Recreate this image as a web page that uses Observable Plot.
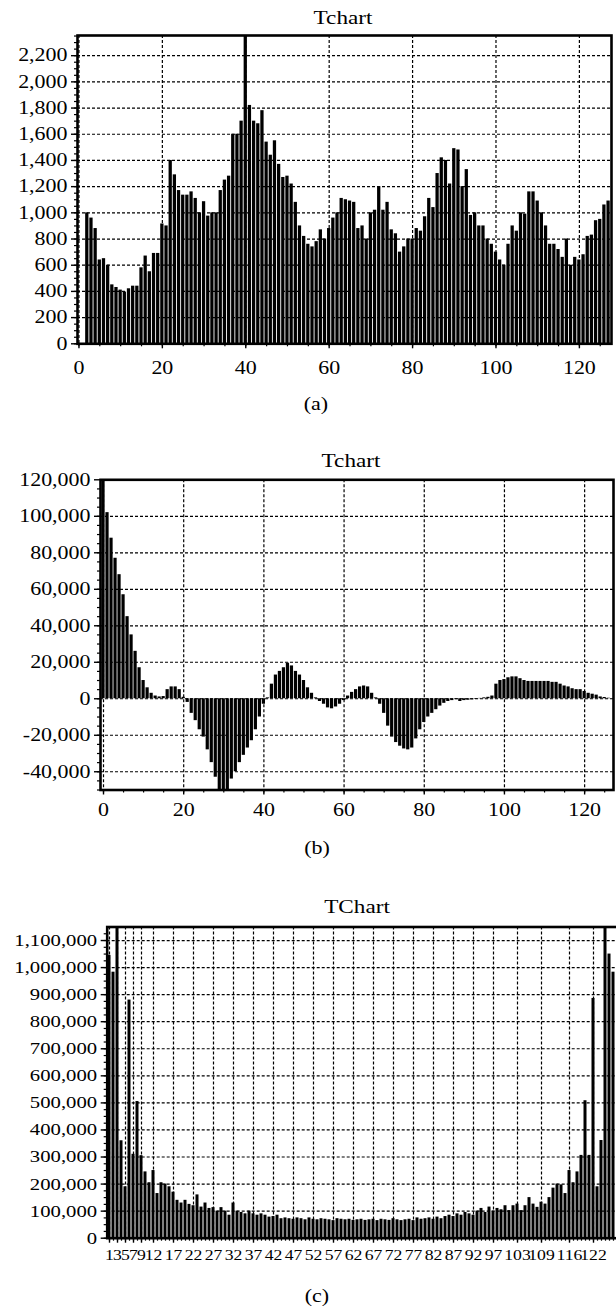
<!DOCTYPE html>
<html>
<head>
<meta charset="utf-8">
<script src="https://cdn.jsdelivr.net/npm/d3@7"></script>
<script src="https://cdn.jsdelivr.net/npm/@observablehq/plot@0.6"></script>
<style>
html, body { margin: 0; padding: 0; background: #fff; overflow: hidden; width: 616px; height: 1309px; }
#page { position: relative; width: 616px; height: 1309px; overflow: hidden; font-family: "Liberation Serif", "Times New Roman", serif; color: #000; }
.t { position: absolute; white-space: nowrap; line-height: 1.107; transform: translateX(-50%) scaleX(1.22); font-family: "Liberation Serif", "Times New Roman", serif; }
svg.chart { position: absolute; left: 0; max-width: none !important; }
svg.chart text { font-family: "Liberation Serif", "Times New Roman", serif !important; }
</style>
</head>
<body>
<div id="page"></div>
<script>
// ---------- data ----------
const aTitle = "Tchart", bTitle = "Tchart", cTitle = "TChart";
const captions = ["(a)", "(b)", "(c)"];

// (a) index 0..127
const aValues = [0, 0, 1000, 960, 880, 640, 650, 600, 450, 430,
  410, 395, 420, 440, 440, 580, 670, 550, 690, 690,
  915, 900, 1400, 1290, 1170, 1135, 1135, 1160, 1110, 1000,
  1085, 975, 1000, 1000, 1170, 1250, 1280, 1600, 1600, 1700,
  2400, 1820, 1700, 1680, 1780, 1540, 1440, 1550, 1370, 1270,
  1280, 1220, 1080, 900, 820, 760, 740, 780, 870, 800,
  880, 960, 1000, 1110, 1100, 1090, 1080, 880, 900, 800,
  1000, 1020, 1200, 1020, 1080, 870, 840, 700, 740, 800,
  800, 880, 860, 970, 1110, 1040, 1300, 1420, 1400, 1220,
  1490, 1480, 1200, 1330, 980, 1000, 900, 900, 800, 760,
  700, 640, 600, 760, 900, 860, 1000, 990, 1160, 1160,
  1090, 1000, 900, 760, 760, 720, 660, 800, 600, 660,
  640, 680, 820, 830, 940, 950, 1060, 1090];
const aYTicks = [0, 200, 400, 600, 800, 1000, 1200, 1400, 1600, 1800, 2000, 2200];
const aXTicks = [0, 20, 40, 60, 80, 100, 120];

// (b) index 0..127
const bValues = [125000, 102000, 88000, 77000, 68000, 57000, 45000, 35000, 26000, 17000,
  10000, 6000, 3000, 1500, 1000, 1200, 5000, 6500, 6500, 5000,
  800, -2000, -8000, -12000, -17000, -21000, -28000, -35000, -43000, -51000,
  -53000, -51000, -44000, -40000, -35000, -31000, -27000, -23000, -17000, -10000,
  -3000, 500, 8000, 13000, 15000, 17000, 19500, 18000, 15000, 13000,
  10000, 6000, 3000, 500, -1500, -3000, -5000, -5500, -4500, -3000,
  -1000, 1500, 3500, 5000, 6500, 7000, 6500, 3000, 500, -3000,
  -8000, -15000, -21000, -24000, -26000, -27500, -28000, -27000, -22000, -17000,
  -13000, -10000, -8000, -6000, -4000, -2500, -1500, -1000, -500, -1500,
  -1000, -800, -600, -400, 200, 500, 800, 1500, 8000, 10000,
  10500, 11500, 12000, 12000, 11000, 10000, 9500, 9500, 9500, 9500,
  9500, 9500, 9000, 9000, 8000, 7000, 6500, 5500, 5000, 5000,
  4000, 3000, 2500, 2000, 1000, 700, 300, 100];
const bYTicks = [-40000, -20000, 0, 20000, 40000, 60000, 80000, 100000, 120000];
const bXTicks = [0, 20, 40, 60, 80, 100, 120];

// (c) index 1..127
const cValues = [1045000, 983000, 1300000, 360000, 190000, 880000, 310000, 505000, 305000, 245000,
  205000, 250000, 165000, 205000, 200000, 190000, 170000, 140000, 130000, 140000,
  125000, 120000, 160000, 115000, 130000, 110000, 113000, 100000, 113000, 100000,
  85000, 130000, 100000, 95000, 90000, 100000, 90000, 85000, 90000, 85000,
  78000, 80000, 85000, 72000, 75000, 72000, 70000, 75000, 72000, 68000,
  75000, 70000, 68000, 72000, 70000, 68000, 65000, 72000, 70000, 68000,
  70000, 66000, 68000, 70000, 66000, 68000, 70000, 65000, 70000, 68000,
  66000, 72000, 68000, 65000, 68000, 70000, 65000, 75000, 70000, 72000,
  75000, 70000, 78000, 72000, 80000, 85000, 80000, 90000, 85000, 95000,
  90000, 85000, 100000, 110000, 95000, 115000, 100000, 110000, 105000, 120000,
  102000, 120000, 126000, 102000, 120000, 150000, 126000, 114000, 133000, 126000,
  150000, 185000, 200000, 197000, 165000, 250000, 205000, 245000, 306000, 508000,
  306000, 886000, 190000, 361000, 1300000, 1050000, 983000];
const cYTicks = [0, 100000, 200000, 300000, 400000, 500000, 600000, 700000, 800000, 900000, 1000000, 1100000];
const cXTicks = [1, 3, 5, 7, 9, 12, 17, 22, 27, 32, 37, 42, 47, 52, 57, 62, 67, 72, 77, 82, 87, 92, 97, 103, 109, 116, 122];

// ---------- drawing ----------
const fmt = d3.formatLocale({decimal: ".", thousands: ",", grouping: [3], currency: ["$", ""], minus: "-"}).format(",");
const page = document.getElementById("page");
const FONT = "Liberation Serif, Times New Roman, serif";
const STRETCH = 1.22;

function addText(txt, cx, baseline, fs) {
  const d = document.createElement("div");
  d.className = "t";
  d.textContent = txt;
  d.style.fontSize = fs + "px";
  d.style.left = cx + "px";
  d.style.top = (baseline - 0.891 * fs) + "px";
  page.appendChild(d);
}

function stretchText(svg, sx) {
  svg.querySelectorAll("text").forEach(t => {
    const x = +t.getAttribute("x") || 0, y = +t.getAttribute("y") || 0;
    const tr = t.getAttribute("transform") || "";
    t.setAttribute("transform", `${tr} translate(${x},${y}) scale(${sx},1) translate(${-x},${-y})`);
  });
}

function makeChart(cfg) {
  const {values, start, width, height, frame, xDomain, yDomain, yTicks, yStep, xTicks, xMinor, yFont, xFont, xPad, inset} = cfg;
  const [fl, ft, fr, fb] = frame;
  const data = values.map((v, i) => ({k: i + start, v}));
  const yMinor = d3.range(yDomain[0], yDomain[1], yStep / 4);
  const dash = {stroke: "#000", strokeOpacity: 1, strokeWidth: 1.2, strokeDasharray: "3,2"};
  const svg = Plot.plot({
    width, height,
    marginLeft: fl, marginTop: ft, marginRight: width - fr, marginBottom: height - fb,
    x: {type: "linear", domain: xDomain, axis: null},
    y: {type: "linear", domain: yDomain, axis: null},
    style: {background: "transparent", color: "#000", fontFamily: FONT, overflow: "visible"},
    marks: [
      Plot.gridY({ticks: yTicks.filter(t => t > yDomain[0] && t < yDomain[1]), ...dash}),
      Plot.gridX({ticks: xTicks, ...dash}),
      Plot.rectY(data, {x1: d => d.k - 0.5, x2: d => d.k + 0.5, y1: 0, y2: "v", fill: "#000", insetLeft: inset, insetRight: inset, clip: true}),
      Plot.frame({stroke: "#000", strokeWidth: 2.6}),
      Plot.axisY({ticks: yMinor, tickSize: 3, tickFormat: () => "", label: null, strokeWidth: 1.2}),
      Plot.axisY({ticks: yTicks, tickSize: 6, tickPadding: 4, tickFormat: fmt, label: null, fontSize: yFont, fontFamily: FONT, strokeWidth: 1.4}),
      Plot.axisX({ticks: xMinor, tickSize: 3, tickFormat: () => "", label: null, strokeWidth: 1.2}),
      Plot.axisX({ticks: xTicks, tickSize: 5, tickPadding: xPad, tickFormat: d => String(d), label: null, fontSize: xFont, fontFamily: FONT, strokeWidth: 1.4})
    ]
  });
  stretchText(svg, STRETCH);
  return svg;
}

function place(svg, top) {
  svg.classList.add("chart");
  svg.style.top = top + "px";
  svg.style.maxWidth = "none";
  page.appendChild(svg);
}

// chart (a)
place(makeChart({
  values: aValues, start: 0, width: 616, height: 400,
  frame: [77, 35, 611, 343.3],
  xDomain: [-0.35, 127.7], yDomain: [0, 2354],
  yTicks: aYTicks, yStep: 200, xTicks: aXTicks, xMinor: d3.range(0, 128, 5),
  yFont: 18, xFont: 18, xPad: 12, inset: 0.45
}), 0);

// chart (b)
place(makeChart({
  values: bValues, start: 0, width: 616, height: 420,
  frame: [100, 59.3, 613, 369.5],
  xDomain: [-0.75, 127.2], yDomain: [-50000, 120000],
  yTicks: bYTicks, yStep: 20000, xTicks: bXTicks, xMinor: d3.range(0, 128, 5),
  yFont: 18, xFont: 18, xPad: 8, inset: 0.4
}), 420);

// chart (c)
place(makeChart({
  values: cValues, start: 1, width: 640, height: 400,
  frame: [106.7, 46.5, 622, 357.7],
  xDomain: [0.425, 129.25], yDomain: [0, 1150000],
  yTicks: cYTicks, yStep: 100000, xTicks: cXTicks, xMinor: d3.range(1, 129, 1),
  yFont: 17, xFont: 14.5, xPad: 7, inset: 0.5
}), 880);

// titles and captions
addText(aTitle, 343, 24, 19);
addText(bTitle, 351, 467, 19);
addText(cTitle, 357, 913, 19);
addText(captions[0], 316, 411, 18);
addText(captions[1], 317, 855, 18);
addText(captions[2], 317, 1303, 18);
</script>
</body>
</html>
